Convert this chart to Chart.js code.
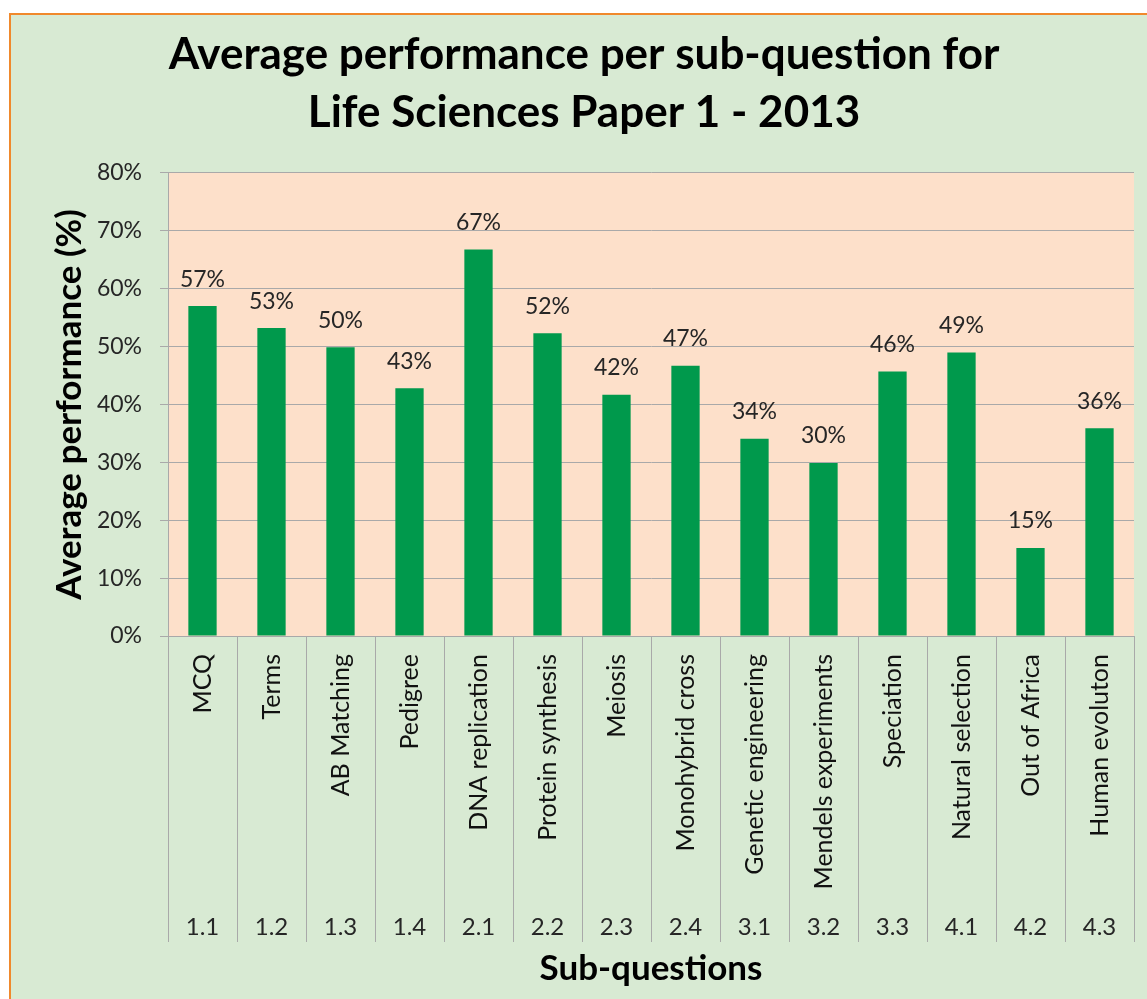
<!DOCTYPE html>
<html>
<head>
<meta charset="utf-8">
<script src="https://cdn.jsdelivr.net/npm/chart.js@4.4.1/dist/chart.umd.min.js"></script>
<style>
  html, body { margin: 0; padding: 0; background: #ffffff; }
  canvas { display: block; }
</style>
</head>
<body>
<canvas id="perfChart" width="1147" height="999"></canvas>
<script>
// Data
const subQuestions = ['MCQ', 'Terms', 'AB Matching', 'Pedigree', 'DNA replication', 'Protein synthesis',
  'Meiosis', 'Monohybrid cross', 'Genetic engineering', 'Mendels experiments', 'Speciation',
  'Natural selection', 'Out of Africa', 'Human evoluton'];
const questionNumbers = ['1.1', '1.2', '1.3', '1.4', '2.1', '2.2', '2.3', '2.4', '3.1', '3.2', '3.3', '4.1', '4.2', '4.3'];
const averagePerformance = [57.0, 53.2, 49.9, 42.8, 66.8, 52.3, 41.7, 46.7, 34.1, 29.9, 45.7, 49.0, 15.2, 35.9];
const yTickValues = [0, 10, 20, 30, 40, 50, 60, 70, 80];

const FONT = 'Lato, "Open Sans", sans-serif';
const bgGreen = '#D8EAD3';
const plotPeach = '#FDE0CA';
const barGreen = '#00994C';
const gridGray = '#A9A9A9';

Chart.defaults.font.family = FONT;
Chart.defaults.color = '#262626';

// background, border and plot area fill
const backgroundPlugin = {
  id: 'backgroundPlugin',
  beforeDraw(chart) {
    const { ctx, chartArea, width, height } = chart;
    ctx.save();
    ctx.fillStyle = '#ffffff';
    ctx.fillRect(0, 0, width, height);
    ctx.fillStyle = bgGreen;
    ctx.fillRect(10, 14, width - 10, height - 14);
    ctx.strokeStyle = '#F0892C';
    ctx.lineWidth = 2;
    ctx.beginPath();
    ctx.moveTo(10, height);
    ctx.lineTo(10, 14);
    ctx.lineTo(width, 14);
    ctx.stroke();
    ctx.fillStyle = plotPeach;
    ctx.fillRect(chartArea.left, chartArea.top, chartArea.right - chartArea.left, chartArea.bottom - chartArea.top);
    ctx.restore();
  }
};

// vertical separators between categories below the plot
const dividerPlugin = {
  id: 'dividerPlugin',
  afterDraw(chart) {
    const { ctx, chartArea } = chart;
    const xs = chart.scales.x;
    const x2 = chart.scales.x2;
    const bottom = x2.top + 46;
    ctx.save();
    ctx.strokeStyle = gridGray;
    ctx.lineWidth = 1;
    for (let i = 0; i <= subQuestions.length; i++) {
      const px = Math.round(xs.getPixelForValue(i - 0.5)) + 0.5;
      ctx.beginPath();
      ctx.moveTo(px, chartArea.bottom);
      ctx.lineTo(px, bottom);
      ctx.stroke();
    }
    ctx.restore();
  }
};

// percentage labels above bars
const valueLabelPlugin = {
  id: 'valueLabelPlugin',
  afterDatasetsDraw(chart) {
    const { ctx } = chart;
    const meta = chart.getDatasetMeta(0);
    ctx.save();
    ctx.font = '23px ' + FONT;
    ctx.fillStyle = '#262626';
    ctx.textAlign = 'center';
    ctx.textBaseline = 'middle';
    meta.data.forEach((bar, i) => {
      ctx.fillText(Math.round(averagePerformance[i]) + '%', bar.x, bar.y - 27);
    });
    ctx.restore();
  }
};

const ctx = document.getElementById('perfChart').getContext('2d');
new Chart(ctx, {
  type: 'bar',
  data: {
    labels: subQuestions,
    datasets: [{
      data: averagePerformance,
      backgroundColor: barGreen,
      borderWidth: 0,
      barPercentage: 0.41,
      categoryPercentage: 1.0
    }]
  },
  options: {
    responsive: false,
    animation: false,
    layout: { padding: { left: 34, right: 13, top: 14, bottom: 8 } },
    plugins: {
      legend: { display: false },
      tooltip: { enabled: false },
      title: {
        display: true,
        text: ['Average performance per sub-question for', 'Life Sciences Paper 1 - 2013'],
        color: '#000000',
        font: { size: 44, weight: 'bold', lineHeight: 1.318 },
        padding: { top: 12, bottom: 31 }
      }
    },
    scales: {
      y: {
        min: 0,
        max: 80,
        afterBuildTicks: (scale) => { scale.ticks = yTickValues.map(v => ({ value: v })); },
        afterFit: (scale) => { scale.width = 134; },
        ticks: {
          padding: 18,
          font: { size: 23 },
          color: '#262626',
          callback: (v) => v + '%'
        },
        grid: { color: gridGray, tickLength: 8, drawTicks: true },
        border: { display: true, color: gridGray },
        title: {
          display: true,
          text: 'Average performance (%)',
          color: '#000000',
          font: { size: 35, weight: 'bold', lineHeight: 1.2 },
          padding: { top: 15, bottom: 0 }
        }
      },
      x: {
        position: 'bottom',
        afterFit: (scale) => { scale.height = 260; },
        grid: { display: false },
        border: { display: false },
        ticks: {
          minRotation: 90,
          maxRotation: 90,
          autoSkip: false,
          padding: 10,
          font: { size: 25 },
          color: '#111111'
        }
      },
      x2: {
        type: 'category',
        position: 'bottom',
        labels: questionNumbers,
        offset: true,
        afterFit: (scale) => { scale.height = 95; },
        grid: { display: false },
        border: { display: false },
        ticks: {
          maxRotation: 0,
          autoSkip: false,
          padding: 9,
          font: { size: 24 },
          color: '#262626'
        },
        title: {
          display: true,
          text: 'Sub-questions',
          color: '#000000',
          font: { size: 35, weight: 'bold', lineHeight: 1.2 },
          padding: { top: 0, bottom: 1 }
        }
      }
    }
  },
  plugins: [backgroundPlugin, dividerPlugin, valueLabelPlugin]
});
</script>
</body>
</html>
